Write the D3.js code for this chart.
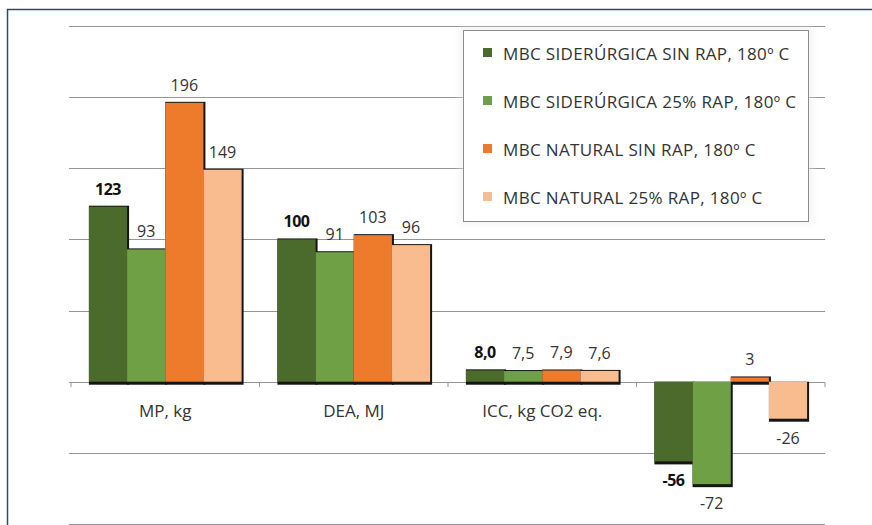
<!DOCTYPE html>
<html>
<head>
<meta charset="utf-8">
<script src="https://cdn.jsdelivr.net/npm/d3@7/dist/d3.min.js"></script>
<style>
  html, body { margin: 0; padding: 0; background: #ffffff; }
  svg { display: block; }
  text { font-family: "Open Sans", "Noto Sans", sans-serif; }
</style>
</head>
<body>
<svg id="chart" width="872" height="525"></svg>
<script>
// Impact indicators per mix
const categories = ["MP, kg", "DEA, MJ", "ICC, kg CO2 eq.", ""];
const labelDecimals = [0, 0, 1, 0];

const seriesNames = [
  "MBC SIDERÚRGICA SIN RAP, 180º C",
  "MBC SIDERÚRGICA 25% RAP, 180º C",
  "MBC NATURAL SIN RAP, 180º C",
  "MBC NATURAL 25% RAP, 180º C"
];
const siderurgicaSinRap = [123, 100, 8.0, -56];
const siderurgica25Rap  = [93, 91, 7.5, -72];
const naturalSinRap     = [196, 103, 7.9, 3];
const natural25Rap      = [149, 96, 7.6, -26];

const seriesColors = ["#4b6b2c", "#70a046", "#ed7b2b", "#f8bc8e"];
const gridTicks = [-100, -50, 0, 50, 100, 150, 200, 250];

const seriesValues = [siderurgicaSinRap, siderurgica25Rap, naturalSinRap, natural25Rap];

const svg = d3.select("#chart");

// outer frame (top and left edges)
svg.append("path")
  .attr("d", "M7.5,525 L7.5,9.5 L872,9.5")
  .attr("fill", "none")
  .attr("stroke", "#1f4e79")
  .attr("stroke-width", 1.5);

const x0 = d3.scaleBand()
  .domain(d3.range(categories.length))
  .range([71, 825])
  .paddingInner(0.19)
  .paddingOuter(0.095);

const x1 = d3.scaleBand()
  .domain(d3.range(seriesNames.length))
  .range([0, x0.bandwidth()]);

const y = d3.scaleLinear()
  .domain([-100, 250])
  .range([524, 26]);

// horizontal gridlines
const gridG = svg.append("g");
gridG.selectAll("line")
  .data(gridTicks)
  .join("line")
  .attr("x1", 69)
  .attr("x2", 825)
  .attr("y1", d => Math.round(y(d)) + 0.5)
  .attr("y2", d => Math.round(y(d)) + 0.5)
  .attr("stroke", "#959595")
  .attr("stroke-width", 1);

// category axis on zero line with boundary ticks
const boundaries = d3.range(categories.length + 1).map(i => 71 + i * x0.step());
svg.append("g").selectAll("line")
  .data(boundaries)
  .join("line")
  .attr("x1", d => d)
  .attr("x2", d => d)
  .attr("y1", Math.round(y(0)) + 0.5)
  .attr("y2", Math.round(y(0)) + 5)
  .attr("stroke", "#959595");

const bars = [];
seriesValues.forEach((vals, s) => {
  vals.forEach((v, c) => {
    bars.push({ s, c, v });
  });
});

const barX = d => x0(d.c) + x1(d.s);
const barTop = d => Math.min(y(d.v), y(0));
const barH = d => Math.abs(y(d.v) - y(0));

// dark shadows beneath the bars
svg.append("g").selectAll("rect")
  .data(bars)
  .join("rect")
  .attr("x", d => barX(d))
  .attr("y", d => barTop(d) - (d.v > 0 ? 1 : 0))
  .attr("width", x1.bandwidth() + 2)
  .attr("height", d => barH(d) + 3 + (d.v > 0 ? 1 : 0))
  .attr("fill", "#151515");

svg.append("g").selectAll("rect")
  .data(bars)
  .join("rect")
  .attr("x", d => barX(d))
  .attr("y", d => barTop(d))
  .attr("width", x1.bandwidth())
  .attr("height", d => barH(d))
  .attr("fill", d => seriesColors[d.s]);

// value labels
const fmtVal = d => {
  const dec = labelDecimals[d.c];
  return d3.format("." + dec + "f")(d.v).replace(".", ",").replace("−", "-");
};
svg.append("g").selectAll("text")
  .data(bars)
  .join("text")
  .attr("x", d => barX(d) + x1.bandwidth() / 2)
  .attr("y", d => d.v >= 0 ? y(d.v) - 12 : y(d.v) + 25)
  .attr("text-anchor", "middle")
  .attr("font-size", 16)
  .attr("font-weight", d => d.s === 0 ? 700 : 400)
  .attr("fill", d => d.s === 0 ? "#111" : "#333")
  .attr("letter-spacing", d => d.s === 0 ? -0.5 : 0)
  .text(fmtVal);

// category labels
svg.append("g").selectAll("text")
  .data(categories)
  .join("text")
  .attr("x", (d, i) => x0(i) + x0.bandwidth() / 2)
  .attr("y", 417)
  .attr("text-anchor", "middle")
  .attr("font-size", 17)
  .attr("fill", "#333")
  .text(d => d);

// legend
const defs = svg.append("defs");
defs.append("filter").attr("id", "soft")
  .attr("x", "-10%").attr("y", "-10%").attr("width", "120%").attr("height", "120%")
  .append("feGaussianBlur").attr("stdDeviation", 3);

const lg = svg.append("g");
lg.append("rect")
  .attr("x", 459).attr("y", 27).attr("width", 354).attr("height", 198)
  .attr("fill", "#e8e8e8")
  .attr("filter", "url(#soft)")
  .attr("opacity", 0.45);
lg.append("rect")
  .attr("x", 463.5).attr("y", 30.5).attr("width", 345).attr("height", 191)
  .attr("fill", "#ffffff")
  .attr("stroke", "#8c8c8c")
  .attr("stroke-width", 1);

const rows = lg.selectAll("g.row")
  .data(seriesNames)
  .join("g")
  .attr("class", "row")
  .attr("transform", (d, i) => `translate(483, ${60 + i * 48})`);
rows.append("rect")
  .attr("x", 0).attr("y", -12)
  .attr("width", 9).attr("height", 9)
  .attr("fill", (d, i) => seriesColors[i]);
rows.append("text")
  .attr("x", 20).attr("y", 0)
  .attr("font-size", 17)
  .attr("letter-spacing", 0.35)
  .attr("fill", "#333")
  .text(d => d);
</script>
</body>
</html>
